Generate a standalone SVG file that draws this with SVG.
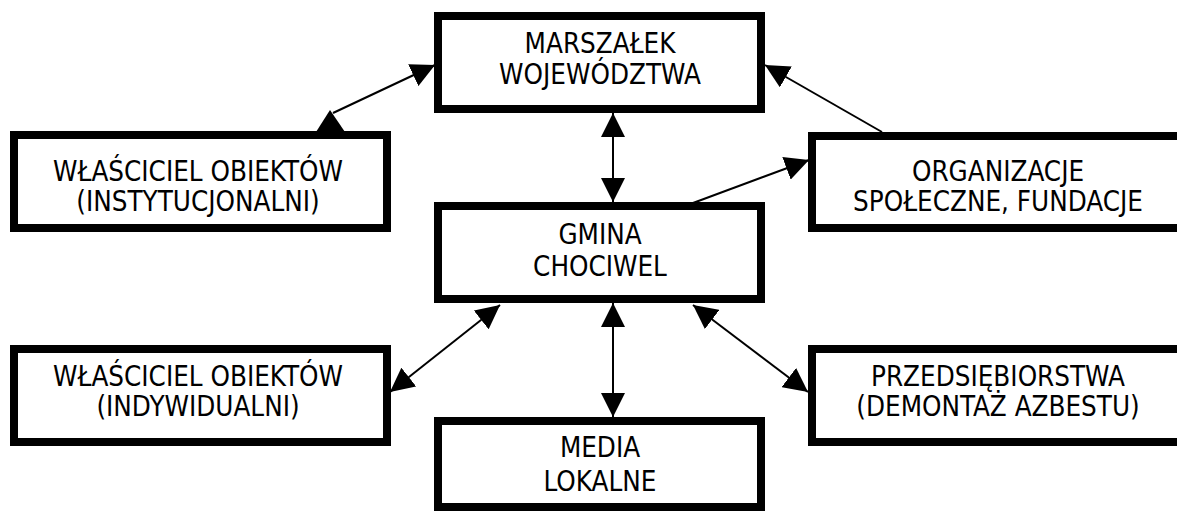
<svg xmlns="http://www.w3.org/2000/svg" width="1177" height="511" viewBox="0 0 1177 511">
<style>
.box{fill:#fff;stroke:#000;stroke-width:8}
.t{font-family:'DejaVu Sans Condensed','DejaVu Sans',sans-serif;font-stretch:condensed;font-size:27.5px;fill:#000;text-anchor:middle}
.ln{stroke:#000;stroke-width:2;fill:none}
.head{fill:#000}
</style>
<defs>
<marker id="ah" markerUnits="userSpaceOnUse" markerWidth="24" markerHeight="24" refX="24" refY="12" orient="auto-start-reverse" viewBox="0 0 24 24">
<path d="M0,0 L24,12 L0,24 z" fill="#000"/>
</marker>
</defs>
<rect width="1177" height="511" fill="#fff"/>
<g id="connectors">
<line class="ln" x1="333" y1="113" x2="435" y2="65" marker-end="url(#ah)"/>
<polygon class="head" points="330,110 316,132 345,132"/>
<line class="ln" x1="613" y1="113" x2="613" y2="202" marker-start="url(#ah)" marker-end="url(#ah)"/>
<line class="ln" x1="882" y1="132" x2="765" y2="65" marker-end="url(#ah)"/>
<line class="ln" x1="693" y1="203" x2="809" y2="160" marker-end="url(#ah)"/>
<line class="ln" x1="500" y1="305" x2="390" y2="392" marker-start="url(#ah)" marker-end="url(#ah)"/>
<line class="ln" x1="613" y1="303" x2="613" y2="417" marker-start="url(#ah)" marker-end="url(#ah)"/>
<line class="ln" x1="693" y1="305" x2="808" y2="392" marker-start="url(#ah)" marker-end="url(#ah)"/>
</g>
<g id="marszalek">
<rect class="box" x="438" y="16" width="323" height="93"/>
<text class="t" x="600" y="53">MARSZAŁEK</text>
<text class="t" x="600" y="84">WOJEWÓDZTWA</text>
</g>
<g id="wlasciciel-inst">
<rect class="box" x="14" y="135" width="373" height="93"/>
<text class="t" x="198" y="181">WŁAŚCICIEL OBIEKTÓW</text>
<text class="t" x="198" y="211">(INSTYTUCJONALNI)</text>
</g>
<g id="organizacje">
<rect class="box" x="812" y="136" width="372" height="92"/>
<text class="t" x="998" y="181">ORGANIZACJE</text>
<text class="t" x="998" y="211">SPOŁECZNE, FUNDACJE</text>
</g>
<g id="gmina">
<rect class="box" x="438" y="206" width="323" height="93"/>
<text class="t" x="600" y="244">GMINA</text>
<text class="t" x="600" y="276">CHOCIWEL</text>
</g>
<g id="wlasciciel-ind">
<rect class="box" x="14" y="349" width="373" height="93"/>
<text class="t" x="198" y="386">WŁAŚCICIEL OBIEKTÓW</text>
<text class="t" x="198" y="416">(INDYWIDUALNI)</text>
</g>
<g id="przedsiebiorstwa">
<rect class="box" x="812" y="349" width="372" height="93"/>
<text class="t" x="998" y="386">PRZEDSIĘBIORSTWA</text>
<text class="t" x="998" y="416">(DEMONTAŻ AZBESTU)</text>
</g>
<g id="media">
<rect class="box" x="438" y="421" width="323" height="86"/>
<text class="t" x="600" y="457">MEDIA</text>
<text class="t" x="600" y="491">LOKALNE</text>
</g>
</svg>
